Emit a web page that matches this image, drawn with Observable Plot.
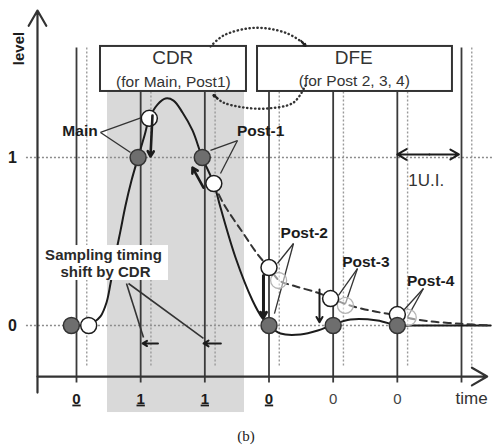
<!DOCTYPE html>
<html><head><meta charset="utf-8">
<script src="https://cdn.jsdelivr.net/npm/d3@7"></script>
<script src="https://cdn.jsdelivr.net/npm/@observablehq/plot@0.6"></script>
<style>
html,body{margin:0;padding:0;background:#fff;}
#cap{width:492px;text-align:center;font:15px "Liberation Serif","DejaVu Serif",serif;line-height:20px;margin-top:4px;color:#222}
</style></head><body>
<div id="chart"></div>
<div id="cap">(b)</div>
<script>
// ---------- data ----------
const sampleTimes = [0, 1, 2, 3, 4, 5, 6];
const tickTimes = [0, 1, 2, 3, 4, 5];
const tickLabels = ["0", "1", "1", "0", "0", "0"];
const tickUnderlined = [true, true, true, true, false, false];
const levelTicks = [0, 1];
const levelLabels = ["0", "1"];
const cdrShift = 0.16;

// pulse response (solid)
const pulseTime  = [0.16, 0.265, 0.374, 0.468, 0.53, 0.608, 0.686, 0.764, 0.857, 0.96, 1.06, 1.135, 1.262, 1.387, 1.512, 1.652, 1.808, 1.96, 2.14, 2.244, 2.478, 2.743, 2.9, 3.0, 3.18, 3.49, 3.76, 4.0, 4.27, 4.69, 5.0, 5.2, 6.45];
const pulseLevel = [0, 0.018, 0.054, 0.137, 0.25, 0.417, 0.565, 0.714, 0.863, 1.0, 1.131, 1.233, 1.315, 1.351, 1.339, 1.268, 1.161, 1.0, 0.845, 0.702, 0.405, 0.149, 0.042, 0, -0.048, -0.054, -0.03, 0.006, 0.036, 0.03, 0, 0, 0];
// tail without DFE (dashed)
const tailTime  = [2.14, 2.29, 2.6, 2.836, 3.0, 3.16, 3.4, 3.75, 3.96, 4.19, 4.45, 4.74, 5.0, 5.17, 5.5, 6.0, 6.45];
const tailLevel = [0.845, 0.726, 0.548, 0.417, 0.345, 0.268, 0.235, 0.196, 0.165, 0.128, 0.1, 0.077, 0.062, 0.045, 0.025, 0.01, 0];

// cursors
const cursorTime  = [-0.08, 0.96, 1.96, 3, 4, 5];
const cursorLevel = [0, 1, 1, 0, 0, 0];
const shiftedTime  = [0.19, 1.135, 2.14, 3.0, 3.96, 5.0];
const shiftedLevel = [0, 1.233, 0.845, 0.345, 0.16, 0.065];
const ghostTime  = [3.15, 4.19, 5.17];
const ghostLevel = [0.268, 0.12, 0.048];

const cursorNames = ["Main", "Post-1", "Post-2", "Post-3", "Post-4"];
const boxTitles = ["CDR", "DFE"];
const boxSubtitles = ["(for Main, Post1)", "(for Post 2, 3, 4)"];

// ---------- layout (annotation geometry) ----------
const ink = "#1c1c1c";
const nameAnchor = [
  {x: 0.33, y: 1.155},
  {x: 2.50, y: 1.155},
  {x: 3.18, y: 0.548},
  {x: 4.14, y: 0.375},
  {x: 5.15, y: 0.262}
];
const names = cursorNames.map((n, i) => ({name: n, ...nameAnchor[i]}));
const leaders = [
  [0.374, 1.149, 1.013, 1.238], [0.374, 1.149, 0.842, 1.03],
  [2.509, 1.101, 2.088, 1.042], [2.509, 1.101, 2.244, 0.905],
  [3.382, 0.488, 3.132, 0.369], [3.382, 0.488, 3.085, 0.071],
  [4.379, 0.339, 4.083, 0.179], [4.379, 0.339, 4.192, 0.131],
  [5.407, 0.22, 5.096, 0.089], [5.407, 0.22, 5.158, 0.048]
].map(([x1, y1, x2, y2]) => ({x1, y1, x2, y2}));

const boxes = [
  {x1: 0.374, x2: 2.649, y1: 1.393, y2: 1.661, tx: 1.50, ty: 1.592, sx: 1.51, sy: 1.449},
  {x1: 2.821, x2: 5.859, y1: 1.393, y2: 1.661, tx: 4.32, ty: 1.595, sx: 4.33, sy: 1.458}
].map((b, i) => ({...b, title: boxTitles[i], sub: boxSubtitles[i]}));

const vlines = sampleTimes.map(t => ({t, top: (t === 0 || t === 6) ? 1.655 : 1.393}));
const dlines = sampleTimes.map(t => ({t: t + cdrShift, top: (t === 0 || t === 6) ? 1.655 : 1.393}));

const arcs = [
  ...[[2.088,1.661],[2.291,1.726],[2.665,1.768],[2.976,1.768],[3.288,1.738],[3.522,1.685],[3.569,1.667]].map(([x,y]) => ({arc: "top", x, y})),
  ...[[3.569,1.429],[3.382,1.327],[2.976,1.292],[2.602,1.298],[2.291,1.327],[2.135,1.369]].map(([x,y]) => ({arc: "bot", x, y}))
];

const ticks = tickTimes.map((t, i) => ({t, label: tickLabels[i], u: tickUnderlined[i]}));
const pulse = pulseTime.map((t, i) => ({t, v: pulseLevel[i]}));
const tail = tailTime.map((t, i) => ({t, v: tailLevel[i]}));
const cursors = cursorTime.map((t, i) => ({t, v: cursorLevel[i]}));
const shifted = shiftedTime.map((t, i) => ({t, v: shiftedLevel[i]}));
const ghosts = ghostTime.map((t, i) => ({t, v: ghostLevel[i]}));

const cursorArrows = [
  {x1: 1.184, y1: 1.25, x2: 1.153, y2: 1.006, w: 2.6},
  {x1: 1.979, y1: 0.82, x2: 1.808, y2: 0.94, w: 2.6},
  {x1: 2.914, y1: 0.298, x2: 2.914, y2: 0.048, w: 3},
  {x1: 3.787, y1: 0.214, x2: 3.787, y2: 0.02, w: 2}
];
const shiftArrows = [
  {x1: 1.27, y1: -0.107, x2: 1.03, y2: -0.107},
  {x1: 2.25, y1: -0.107, x2: 1.98, y2: -0.107}
];
const shiftLeaders = [
  {x1: 0.779, y1: 0.25, x2: 1.044, y2: -0.071},
  {x1: 0.81, y1: 0.25, x2: 1.979, y2: -0.077}
];

const plot = Plot.plot({
  width: 492,
  height: 422,
  margin: 0,
  x: {domain: [0, 6], range: [76, 461], axis: null},
  y: {domain: [0, 1], range: [325, 157], axis: null},
  style: {fontFamily: "'Liberation Sans', Arial, sans-serif", background: "white", color: ink},
  marks: [
    // shaded CDR region
    Plot.rect([{}], {x1: () => 0.483, x2: () => 2.618, y1: () => -0.518, y2: () => 1.387, fill: "#d9d9d9"}),
    // dotted level grid
    Plot.ruleY(levelTicks, {y: d => d, x1: () => -0.78, x2: () => 6.55, stroke: "#8c8c8c", strokeWidth: 1.4, strokeDasharray: "2,2"}),
    // dotted shifted sampling lines
    Plot.link(dlines, {x1: "t", x2: "t", y1: "top", y2: () => -0.25, stroke: "#9a9a9a", strokeWidth: 1.4, strokeDasharray: "2,2"}),
    // solid sampling lines
    Plot.link(vlines, {x1: "t", x2: "t", y1: "top", y2: () => -0.339, stroke: "#3a3a3a", strokeWidth: 1.8}),
    // boxes
    Plot.rect(boxes, {x1: "x1", x2: "x2", y1: "y1", y2: "y2", fill: "white", stroke: "#333", strokeWidth: 2}),
    Plot.text(boxes, {x: "tx", y: "ty", text: "title", fontSize: 19, fill: "#333"}),
    Plot.text(boxes, {x: "sx", y: "sy", text: "sub", fontSize: 15.5, fill: "#333"}),
    // dotted feedback arcs
    Plot.line(arcs, {x: "x", y: "y", z: "arc", curve: "catmull-rom", stroke: "#333", strokeWidth: 2.4, strokeDasharray: "0.4,3.6", strokeLinecap: "round"}),
    Plot.arrow([{x1: 3.50, y1: 1.694, x2: 3.569, y2: 1.664}, {x1: 2.20, y1: 1.352, x2: 2.135, y2: 1.372}],
      {x1: "x1", y1: "y1", x2: "x2", y2: "y2", stroke: "#222", strokeWidth: 2, headLength: 9}),
    // axes
    Plot.arrow([{}], {x1: () => -0.608, y1: () => -0.399, x2: () => -0.608, y2: () => 1.875, stroke: "#333", strokeWidth: 2.2, headLength: 12, headAngle: 60}),
    Plot.arrow([{}], {x1: () => -0.608, y1: () => -0.304, x2: () => 6.40, y2: () => -0.304, stroke: "#333", strokeWidth: 2.2, headLength: 12, headAngle: 60}),
    // y tick labels & title
    Plot.text(levelTicks, {x: () => -0.997, y: d => d, text: (d, i) => levelLabels[i], fontSize: 16, fontWeight: "bold", fill: ink}),
    Plot.text(["level"], {x: () => -0.888, y: () => 1.649, text: d => d, rotate: -90, fontSize: 15, fontWeight: "bold", fill: ink}),
    // x tick labels
    Plot.text(ticks.filter(d => d.u), {x: "t", y: () => -0.439, text: "label", fontSize: 15, fontWeight: "bold", fill: ink}),
    Plot.text(ticks.filter(d => !d.u), {x: "t", y: () => -0.439, text: "label", fontSize: 15, fill: "#444"}),
    Plot.link(ticks.filter(d => d.u), {x1: d => d.t - 0.065, x2: d => d.t + 0.065, y1: () => -0.476, y2: () => -0.476, stroke: ink, strokeWidth: 1.8}),
    Plot.text(["time"], {x: () => 5.906, y: () => -0.435, text: d => d, textAnchor: "start", fontSize: 17, fill: "#333"}),
    // pulse response and uncorrected tail
    Plot.line(pulse, {x: "t", y: "v", curve: "catmull-rom", stroke: ink, strokeWidth: 2}),
    Plot.line(tail, {x: "t", y: "v", curve: "catmull-rom", stroke: "#333", strokeWidth: 2, strokeDasharray: "7,5"}),
    // leader lines
    Plot.link(leaders, {x1: "x1", y1: "y1", x2: "x2", y2: "y2", stroke: "#333", strokeWidth: 1.3}),
    // sampling timing shift label
    Plot.link(shiftLeaders, {x1: "x1", y1: "y1", x2: "x2", y2: "y2", stroke: "#333", strokeWidth: 1.6}),
    Plot.rect([{}], {x1: () => -0.53, x2: () => 1.434, y1: () => 0.268, y2: () => 0.476, fill: "white"}),
    Plot.text(["Sampling timing", "shift by CDR"], {x: (d, i) => [0.42, 0.452][i], y: (d, i) => [0.417, 0.315][i], text: d => d, fontSize: 15, fontWeight: "bold", fill: "#2a2a2a"}),
    Plot.arrow(shiftArrows, {x1: "x1", y1: "y1", x2: "x2", y2: "y2", stroke: ink, strokeWidth: 2, headLength: 9}),
    // sample circles
    Plot.dot(ghosts, {x: "t", y: "v", r: 8, fill: "white", fillOpacity: 0.5, stroke: "#b5b5b5", strokeWidth: 1.3}),
    Plot.dot(shifted, {x: "t", y: "v", r: 8, fill: "white", stroke: ink, strokeWidth: 1.5}),
    Plot.dot(cursors, {x: "t", y: "v", r: 8, fill: "#6e6e6e", stroke: "#333", strokeWidth: 1.5}),
    // correction arrows
    Plot.arrow(cursorArrows, {x1: "x1", y1: "y1", x2: "x2", y2: "y2", stroke: ink, strokeWidth: "w", headLength: 9}),
    // cursor names
    Plot.text(names.slice(0, 1), {x: "x", y: "y", text: "name", textAnchor: "end", fontSize: 15.5, fontWeight: "bold", fill: ink}),
    Plot.text(names.slice(1), {x: "x", y: "y", text: "name", textAnchor: "start", fontSize: 15.5, fontWeight: "bold", fill: ink}),
    // 1 U.I.
    Plot.arrow([{x2: 5.0}, {x2: 5.96}], {x1: () => 5.5, y1: () => 1.018, x2: "x2", y2: () => 1.018, stroke: ink, strokeWidth: 2, headLength: 10}),
    Plot.text(["1U.I."], {x: () => 5.17, y: () => 0.86, text: d => d, textAnchor: "start", fontSize: 17, fill: "#333"})
  ]
});
document.getElementById("chart").appendChild(plot);
</script></body></html>
